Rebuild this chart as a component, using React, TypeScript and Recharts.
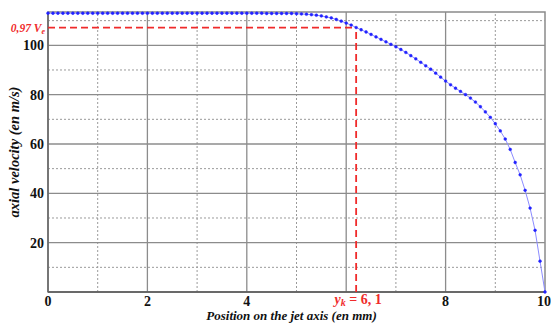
import {
  LineChart,
  Line,
  XAxis,
  YAxis,
  ReferenceLine,
  ReferenceDot,
  ReferenceArea,
} from "recharts"

// position on the jet axis (mm), step 0.1
const positions = [
  0, 0.1, 0.2, 0.3, 0.4, 0.5, 0.6, 0.7, 0.8, 0.9,
  1, 1.1, 1.2, 1.3, 1.4, 1.5, 1.6, 1.7, 1.8, 1.9,
  2, 2.1, 2.2, 2.3, 2.4, 2.5, 2.6, 2.7, 2.8, 2.9,
  3, 3.1, 3.2, 3.3, 3.4, 3.5, 3.6, 3.7, 3.8, 3.9,
  4, 4.1, 4.2, 4.3, 4.4, 4.5, 4.6, 4.7, 4.8, 4.9,
  5, 5.1, 5.2, 5.3, 5.4, 5.5, 5.6, 5.7, 5.8, 5.9,
  6, 6.1, 6.2, 6.3, 6.4, 6.5, 6.6, 6.7, 6.8, 6.9,
  7, 7.1, 7.2, 7.3, 7.4, 7.5, 7.6, 7.7, 7.8, 7.9,
  8, 8.1, 8.2, 8.3, 8.4, 8.5, 8.6, 8.7, 8.8, 8.9,
  9, 9.1, 9.2, 9.3, 9.4, 9.5, 9.6, 9.7, 9.8, 9.9,
  10,
]

// axial velocity (m/s)
const velocities = [
  113, 113, 113, 113, 113, 113, 113, 113, 113, 113,
  113, 113, 113, 113, 113, 113, 113, 113, 113, 113,
  113, 113, 113, 113, 113, 113, 113, 113, 113, 113,
  113, 113, 113, 113, 113, 113, 113, 113, 113, 113,
  113, 113, 113, 113, 112.9, 112.9, 112.9, 112.9, 112.9, 112.9,
  112.8, 112.7, 112.6, 112.4, 112.2, 111.9, 111.5, 111.1, 110.5, 109.8,
  109, 108.2, 107.2, 106.3, 105.4, 104.4, 103.4, 102.4, 101.4, 100.4,
  99.4, 98.3, 97.1, 95.8, 94.5, 93.1, 91.7, 90.3, 88.7, 87.1,
  85.5, 84, 82.6, 81.3, 80, 78.6, 77, 75.1, 73, 70.8,
  68.2, 65.3, 62, 57.8, 52.5, 47.5, 41.2, 34, 25, 12.5,
  0,
]

const yTicks = [20, 40, 60, 80, 100]
const xTicks = [0, 2, 4, 6, 8, 10]
const yMajor = [20, 40, 60, 80, 100]
const yMinor = [10, 30, 50, 70, 90, 110]
const xMajor = [2, 4, 6, 8]
const xMinor = [1, 3, 5, 7, 9]

const yMax = 113.5
const kPosition = 6.2
const kVelocity = 107.2

const data = positions.map((x, i) => ({ x, v: velocities[i] }))

const FONT = "'Liberation Serif', serif"
const RED = "#f02b2b"

const App = () => {
  return (
    <div style={{ position: "absolute", left: 0, top: 0 }}>
      <LineChart
        width={551}
        height={323}
        data={data}
        margin={{ top: 12, right: 6, bottom: 0, left: 0 }}
      >
        <XAxis
          dataKey="x"
          type="number"
          domain={[0, 10]}
          ticks={xTicks}
          tickFormatter={(v: number) => (v === 6 ? "" : `${v}`)}
          axisLine={false}
          tickLine={false}
          tickSize={4}
          tickMargin={0}
          height={31}
          tick={{ fill: "#111", fontSize: 14, fontWeight: 700, fontFamily: FONT }}
          label={{
            content: ({ viewBox }: any) => (
              <text
                x={viewBox.x + viewBox.width / 2 - 5}
                y={viewBox.y + 28}
                textAnchor="middle"
                fontFamily={FONT}
                fontSize={13}
                fontWeight={700}
                fontStyle="italic"
                fill="#111"
              >
                Position on the jet axis (en mm)
              </text>
            ),
          }}
        />
        <YAxis
          type="number"
          domain={[0, yMax]}
          ticks={yTicks}
          axisLine={false}
          tickLine={false}
          tickSize={4}
          tickMargin={0}
          width={48}
          tick={{ fill: "#111", fontSize: 14, fontWeight: 700, fontFamily: FONT }}
          label={{
            content: ({ viewBox }: any) => {
              const cx = viewBox.x + 16
              const cy = viewBox.y + viewBox.height / 2
              return (
                <text
                  x={cx}
                  y={cy}
                  transform={`rotate(-90 ${cx} ${cy})`}
                  textAnchor="middle"
                  dominantBaseline="middle"
                  fontFamily={FONT}
                  fontSize={14.5}
                  fontWeight={700}
                  fontStyle="italic"
                  fill="#111"
                >
                  axial velocity (en m/s)
                </text>
              )
            },
          }}
        />

        {yMinor.map((v) => (
          <ReferenceLine key={`ym${v}`} y={v} stroke="#9a9a9a" strokeDasharray="2 2" strokeWidth={1} />
        ))}
        {xMinor.map((v) => (
          <ReferenceLine key={`xm${v}`} x={v} stroke="#9a9a9a" strokeDasharray="2 2" strokeWidth={1} />
        ))}
        {yMajor.map((v) => (
          <ReferenceLine key={`yM${v}`} y={v} stroke="#8c8c8c" strokeWidth={1.3} />
        ))}
        {xMajor.map((v) => (
          <ReferenceLine key={`xM${v}`} x={v} stroke="#8c8c8c" strokeWidth={1.3} />
        ))}

        <ReferenceArea
          x1={0}
          x2={10}
          y1={0}
          y2={yMax}
          fill="none"
          stroke="#8a8a8a"
          strokeWidth={1.5}
        />
        <ReferenceLine y={0} stroke="#555" strokeWidth={1.5} />
        <ReferenceLine x={0} stroke="#666" strokeWidth={1.5} />

        <ReferenceLine
          segment={[
            { x: 0, y: kVelocity },
            { x: kPosition, y: kVelocity },
          ]}
          stroke={RED}
          strokeWidth={1.8}
          strokeDasharray="7 4"
        />
        <ReferenceLine
          segment={[
            { x: kPosition, y: 0 },
            { x: kPosition, y: kVelocity },
          ]}
          stroke={RED}
          strokeWidth={1.8}
          strokeDasharray="7 4"
        />

        <Line
          type="linear"
          dataKey="v"
          stroke="#8c8cff"
          strokeWidth={1}
          isAnimationActive={false}
          dot={{ r: 1.4, fill: "#2222ff", stroke: "#2222ff", strokeWidth: 0.5 }}
        />

        <ReferenceDot
          x={0}
          y={kVelocity}
          r={0}
          ifOverflow="visible"
          label={{
            content: ({ viewBox }: any) => (
              <text
                x={viewBox.x - 3}
                y={viewBox.y + 4}
                textAnchor="end"
                fontFamily={FONT}
                fontSize={11.5}
                fontWeight={700}
                fontStyle="italic"
                fill={RED}
              >
                0,97 V
                <tspan fontSize={8} dy={2}>e</tspan>
              </text>
            ),
          }}
        />
        <ReferenceDot
          x={kPosition}
          y={0}
          r={0}
          ifOverflow="visible"
          label={{
            content: ({ viewBox }: any) => (
              <text
                x={viewBox.x + 2}
                y={viewBox.y + 12}
                textAnchor="middle"
                fontFamily={FONT}
                fontSize={14}
                fontWeight={700}
                fill={RED}
              >
                <tspan fontStyle="italic">y</tspan>
                <tspan fontSize={10} dy={2} fontStyle="italic">k</tspan>
                <tspan dy={-2}> = 6, 1</tspan>
              </text>
            ),
          }}
        />
      </LineChart>
    </div>
  )
}

export default App
